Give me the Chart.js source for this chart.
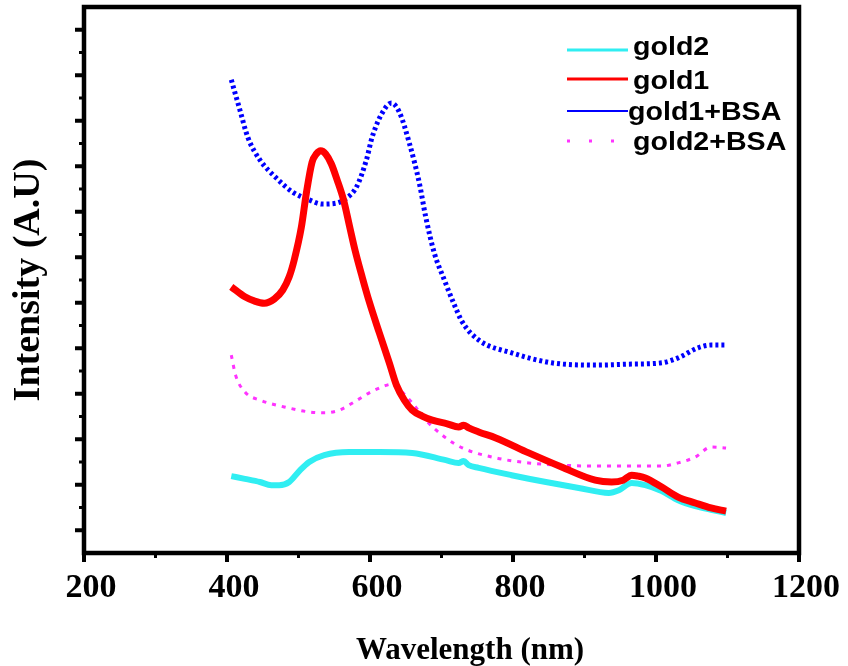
<!DOCTYPE html>
<html>
<head>
<meta charset="utf-8">
<script src="https://cdn.jsdelivr.net/npm/chart.js@4.4.0/dist/chart.umd.min.js"></script>
<style>
    html, body { margin: 0; padding: 0; background: #fff; }
    #wrap { width: 848px; height: 666px; }
</style>
</head>
<body>
<div id="wrap"><canvas id="chart" width="848" height="666"></canvas></div>
<script>
// wavelength (nm) / intensity (A.U)
const gold2Nm = [406, 425, 446, 462, 473, 487, 501, 515, 536, 571, 613, 659, 706, 724, 731, 738, 752, 798, 846, 892, 934, 948, 966, 985, 1008, 1031, 1055, 1077, 1098];
const gold2Int = [0.169, 0.163, 0.156, 0.149, 0.149, 0.156, 0.180, 0.200, 0.215, 0.222, 0.222, 0.220, 0.204, 0.198, 0.202, 0.193, 0.187, 0.171, 0.156, 0.143, 0.132, 0.138, 0.154, 0.149, 0.136, 0.116, 0.103, 0.095, 0.088];

const gold1Nm = [406, 425, 438, 452, 466, 478, 487, 494, 504, 511, 519, 525, 531, 538, 546, 554, 563, 571, 579, 589, 599, 613, 627, 637, 648, 659, 673, 687, 708, 724, 731, 738, 752, 776, 822, 868, 915, 938, 954, 966, 975, 985, 1008, 1031, 1055, 1077, 1098];
const gold1Int = [0.585, 0.563, 0.554, 0.549, 0.558, 0.578, 0.607, 0.644, 0.716, 0.791, 0.859, 0.877, 0.884, 0.877, 0.855, 0.820, 0.776, 0.721, 0.666, 0.607, 0.552, 0.484, 0.418, 0.369, 0.336, 0.314, 0.301, 0.292, 0.284, 0.277, 0.281, 0.275, 0.266, 0.253, 0.220, 0.189, 0.160, 0.156, 0.160, 0.171, 0.169, 0.165, 0.145, 0.123, 0.110, 0.099, 0.092];

const gold1BsaNm = [406, 412, 418, 429, 446, 469, 492, 515, 533, 553, 567, 581, 595, 603, 617, 630, 641, 655, 669, 678, 690, 704, 717, 729, 752, 798, 854, 916, 962, 1008, 1031, 1059, 1077, 1097];
const gold1BsaInt = [1.040, 1.007, 0.974, 0.914, 0.864, 0.824, 0.793, 0.776, 0.767, 0.769, 0.780, 0.804, 0.864, 0.914, 0.967, 0.989, 0.969, 0.901, 0.813, 0.738, 0.659, 0.600, 0.549, 0.508, 0.468, 0.440, 0.418, 0.413, 0.415, 0.418, 0.429, 0.451, 0.457, 0.457];

const gold2BsaNm = [406, 412, 425, 446, 480, 515, 536, 557, 578, 599, 620, 630, 637, 659, 678, 706, 729, 776, 822, 868, 916, 952, 1008, 1031, 1055, 1077, 1098];
const gold2BsaInt = [0.435, 0.391, 0.354, 0.336, 0.321, 0.310, 0.308, 0.314, 0.332, 0.352, 0.367, 0.371, 0.365, 0.330, 0.292, 0.253, 0.231, 0.209, 0.198, 0.193, 0.191, 0.191, 0.191, 0.198, 0.211, 0.233, 0.231];

const legendLabels = ['gold2', 'gold1', 'gold1+BSA', 'gold2+BSA'];
const xMajorTicks = [200, 400, 600, 800, 1000, 1200];
const xMinorTicks = [300, 500, 700, 900, 1100];
const yMajorTicks = [0.05, 0.15, 0.25, 0.35, 0.45, 0.55, 0.65, 0.75, 0.85, 0.95, 1.05, 1.15];
const yMinorTicks = [0.1, 0.2, 0.3, 0.4, 0.5, 0.6, 0.7, 0.8, 0.9, 1.0, 1.1];
const xTitle = 'Wavelength (nm)';

const serif = '"Liberation Serif", "Times New Roman", serif';

function toPoints(xs, ys) {
    return xs.map((x, i) => ({ x: x, y: ys[i] }));
}

// box round the plot, outward tick marks and the x title
const frameAndTicks = {
    id: 'frameAndTicks',
    afterDatasetsDraw(chart) {
        const ctx = chart.ctx;
        const a = chart.chartArea;
        const xs = chart.scales.x;
        const ys = chart.scales.y;
        ctx.save();
        ctx.strokeStyle = '#000';
        ctx.lineCap = 'butt';

        ctx.lineWidth = 4;
        xMajorTicks.forEach(v => {
            const px = xs.getPixelForValue(v);
            ctx.beginPath(); ctx.moveTo(px, a.bottom); ctx.lineTo(px, a.bottom + 9); ctx.stroke();
        });
        yMajorTicks.forEach(v => {
            const py = ys.getPixelForValue(v);
            ctx.beginPath(); ctx.moveTo(a.left, py); ctx.lineTo(a.left - 9, py); ctx.stroke();
        });
        ctx.lineWidth = 3;
        xMinorTicks.forEach(v => {
            const px = xs.getPixelForValue(v);
            ctx.beginPath(); ctx.moveTo(px, a.bottom); ctx.lineTo(px, a.bottom + 5); ctx.stroke();
        });
        yMinorTicks.forEach(v => {
            const py = ys.getPixelForValue(v);
            ctx.beginPath(); ctx.moveTo(a.left, py); ctx.lineTo(a.left - 5, py); ctx.stroke();
        });

        ctx.lineWidth = 4.5;
        ctx.strokeRect(a.left, a.top, a.right - a.left, a.bottom - a.top);

        ctx.fillStyle = '#000';
        ctx.font = 'bold 31px ' + serif;
        ctx.textAlign = 'center';
        ctx.textBaseline = 'middle';
        ctx.fillText(xTitle, 470, 651);
        ctx.restore();
    }
};

// legend in the top right corner, the way the figure has it
const cornerLegend = {
    id: 'cornerLegend',
    afterDraw(chart) {
        const ctx = chart.ctx;
        const rows = [
            { lineY: 50, textX: 633, textY: 48 },
            { lineY: 79, textX: 633, textY: 82 },
            { lineY: 111, textX: 628, textY: 113 },
            { lineY: 141, textX: 633, textY: 143 }
        ];
        ctx.save();
        legendLabels.forEach((label, i) => {
            const ds = chart.data.datasets.find(d => d.label === label);
            const r = rows[i];
            ctx.strokeStyle = ds.borderColor;
            ctx.lineWidth = i === 2 ? 2 : 3;
            ctx.setLineDash(i === 3 ? [3, 19] : []);
            ctx.beginPath(); ctx.moveTo(567, r.lineY); ctx.lineTo(628, r.lineY); ctx.stroke();

            ctx.setLineDash([]);
            ctx.save();
            ctx.translate(r.textX, r.textY);
            ctx.scale(1.1, 1);
            ctx.fillStyle = '#000';
            ctx.font = 'bold 26px "Liberation Sans", Arial, sans-serif';
            ctx.textBaseline = 'middle';
            ctx.textAlign = 'left';
            ctx.fillText(label, 0, 0);
            ctx.restore();
        });
        ctx.restore();
    }
};

const ctx = document.getElementById('chart').getContext('2d');
new Chart(ctx, {
    type: 'line',
    data: {
        datasets: [
            {
                label: 'gold2',
                data: toPoints(gold2Nm, gold2Int),
                borderColor: '#30eef2',
                borderWidth: 6,
                order: 2
            },
            {
                label: 'gold1',
                data: toPoints(gold1Nm, gold1Int),
                borderColor: '#ff0000',
                borderWidth: 7,
                order: 1
            },
            {
                label: 'gold1+BSA',
                data: toPoints(gold1BsaNm, gold1BsaInt),
                borderColor: '#0000ff',
                borderWidth: 5,
                borderDash: [3, 3],
                order: 4
            },
            {
                label: 'gold2+BSA',
                data: toPoints(gold2BsaNm, gold2BsaInt),
                borderColor: '#ff33ff',
                borderWidth: 3,
                borderDash: [4, 6],
                order: 3
            }
        ]
    },
    options: {
        responsive: false,
        animation: false,
        layout: { padding: { top: 7, right: 46, left: 0, bottom: 0 } },
        elements: {
            point: { radius: 0 },
            line: { cubicInterpolationMode: 'monotone', fill: false, borderCapStyle: 'butt' }
        },
        plugins: {
            legend: { display: false },
            tooltip: { enabled: false }
        },
        scales: {
            x: {
                type: 'linear',
                min: 200,
                max: 1200,
                afterFit: s => { s.height = 113; },
                grid: { display: false, drawTicks: false },
                border: { display: false },
                ticks: {
                    stepSize: 200,
                    padding: 15,
                    labelOffset: 7,
                    color: '#000',
                    callback: v => String(v),
                    font: { family: serif, size: 34, weight: 'bold' }
                },
                title: { display: false }
            },
            y: {
                type: 'linear',
                min: 0,
                max: 1.2,
                afterFit: s => { s.width = 84; },
                grid: { display: false, drawTicks: false },
                border: { display: false },
                ticks: { display: false },
                title: {
                    display: true,
                    text: 'Intensity (A.U)',
                    color: '#000',
                    padding: { top: 6, bottom: 0 },
                    font: { family: serif, size: 38, weight: 'bold' }
                }
            }
        }
    },
    plugins: [frameAndTicks, cornerLegend]
});
</script>
</body>
</html>
